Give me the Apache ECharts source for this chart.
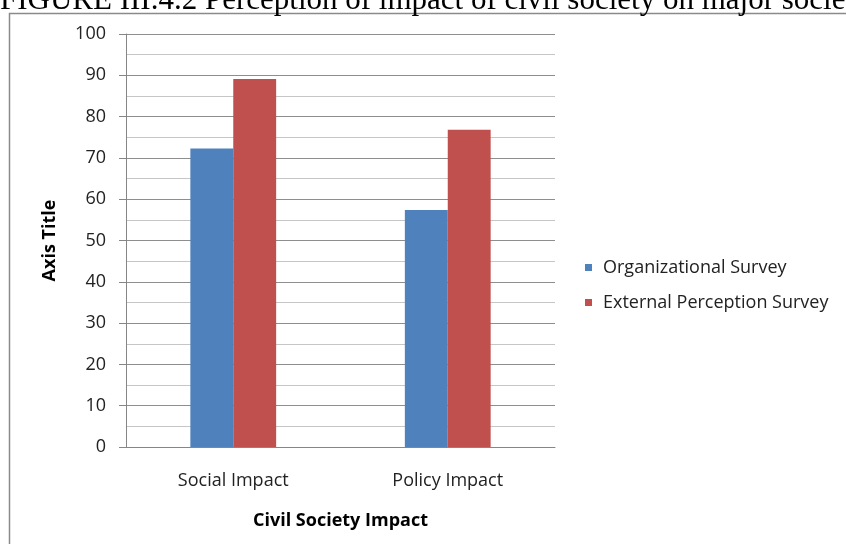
<!DOCTYPE html>
<html>
<head>
<meta charset="utf-8">
<script src="https://cdn.jsdelivr.net/npm/echarts@6/dist/echarts.min.js"></script>
<style>
  html, body { margin: 0; padding: 0; background: #ffffff; }
  #chart { width: 846px; height: 544px; }
</style>
</head>
<body>
<div id="chart"></div>
<script>
// Categories and survey results (percent)
const categories = ['Social Impact', 'Policy Impact'];
const organizationalSurvey = [72.3, 57.4];
const externalPerceptionSurvey = [89.1, 76.8];
const seriesNames = ['Organizational Survey', 'External Perception Survey'];
const yTicks = { min: 0, max: 100, step: 10 };

const chart = echarts.init(document.getElementById('chart'), null, { renderer: 'canvas' });

const labelFont = '"Open Sans", "Noto Sans", sans-serif';

chart.setOption({
  backgroundColor: '#ffffff',
  animation: false,
  color: ['#4F81BD', '#C0504D'],
  graphic: [
    {
      type: 'rect',
      shape: { x: 9.5, y: 13.5, width: 900, height: 600 },
      style: { fill: 'none', stroke: '#8a8a8a', lineWidth: 1.5 },
      z: -1
    },
    {
      type: 'text',
      style: {
        x: 0,
        y: 16,
        text: 'FIGURE III.4.2 Perception of impact of civil society on major societal concerns',
        font: '31px "Liberation Serif", "Times New Roman", serif',
        fill: '#000000',
        textVerticalAlign: 'bottom'
      }
    }
  ],
  grid: { left: 126, right: 291, top: 34, bottom: 97, containLabel: false },
  legend: {
    orient: 'vertical',
    left: 585,
    top: 257,
    padding: 0,
    itemWidth: 7,
    itemHeight: 7,
    itemGap: 14,
    icon: 'rect',
    data: seriesNames,
    textStyle: { fontFamily: labelFont, fontSize: 18, color: '#222', lineHeight: 21, padding: [0, 0, 0, 6] }
  },
  xAxis: {
    type: 'category',
    data: categories,
    name: 'Civil Society Impact',
    nameLocation: 'middle',
    nameGap: 65,
    nameTextStyle: { fontFamily: labelFont, fontSize: 18, fontWeight: 'bold', color: '#000' },
    axisLine: { show: true, lineStyle: { color: '#868686', width: 1 } },
    axisTick: { show: false },
    axisLabel: { fontFamily: labelFont, fontSize: 18, color: '#222', margin: 25 },
    splitLine: { show: false }
  },
  yAxis: {
    type: 'value',
    min: yTicks.min,
    max: yTicks.max,
    interval: yTicks.step,
    name: 'Axis Title',
    nameLocation: 'middle',
    nameGap: 67,
    nameRotate: 90,
    nameTextStyle: { fontFamily: labelFont, fontSize: 18, fontWeight: 'bold', color: '#000' },
    axisLine: { show: true, lineStyle: { color: '#868686', width: 1 } },
    axisTick: { show: true, inside: false, length: 7, lineStyle: { color: '#868686' } },
    axisLabel: { fontFamily: labelFont, fontSize: 18, color: '#222', margin: 20 },
    splitLine: { show: true, lineStyle: { color: '#8e8e8e', width: 1 } },
    minorTick: { show: false, splitNumber: 2 },
    minorSplitLine: { show: true, lineStyle: { color: '#c6c6c6', width: 1 } }
  },
  series: [
    {
      name: seriesNames[0],
      type: 'bar',
      data: organizationalSurvey,
      barGap: '0%',
      barCategoryGap: '60%',
      itemStyle: { color: '#4F81BD' }
    },
    {
      name: seriesNames[1],
      type: 'bar',
      data: externalPerceptionSurvey,
      barGap: '0%',
      barCategoryGap: '60%',
      itemStyle: { color: '#C0504D' }
    }
  ]
});
</script>
</body>
</html>
